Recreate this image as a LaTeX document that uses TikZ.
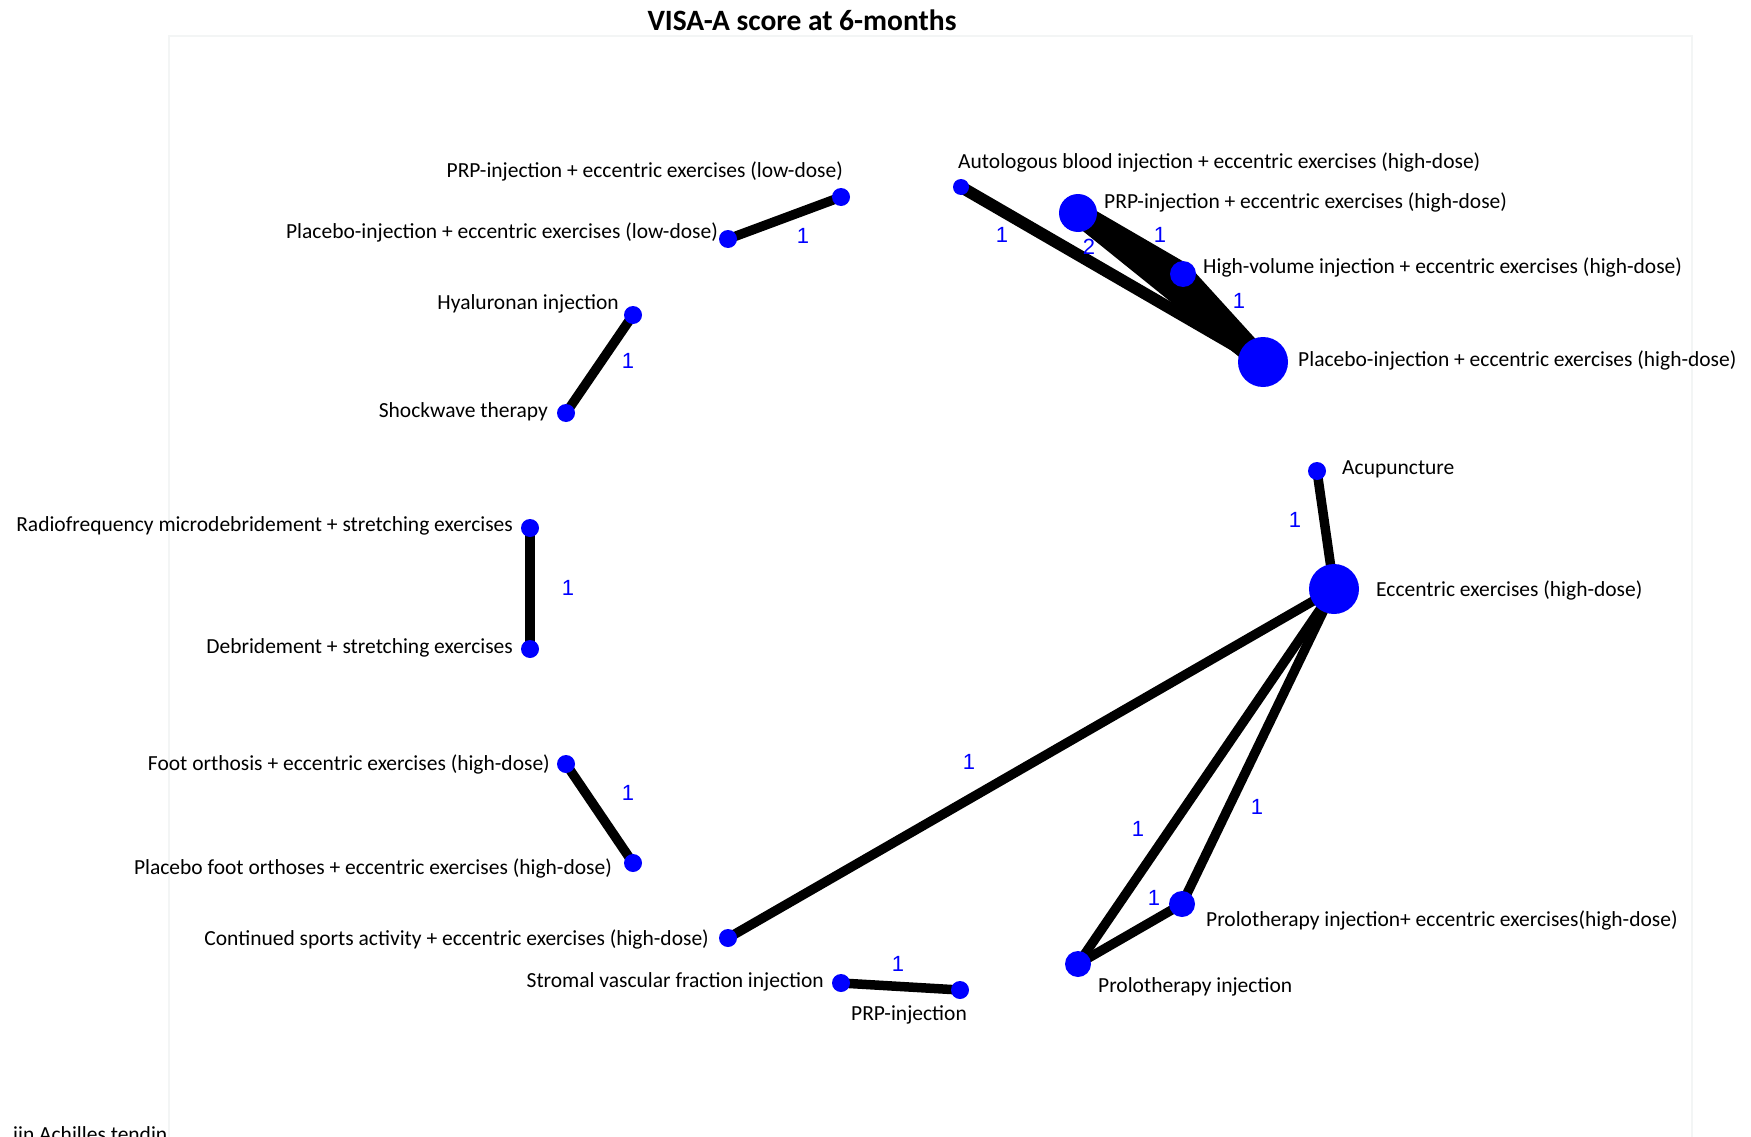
\documentclass[tikz,border=0pt]{standalone}
\usepackage{fontspec}
\setmainfont{Carlito}
\newfontfamily\numfont{Liberation Sans}
\definecolor{nodeblue}{RGB}{0,0,255}
\definecolor{framegray}{RGB}{243,245,245}
\begin{document}
\begin{tikzpicture}[x=1pt,y=-1pt,
  edge/.style={line width=#1, black},
  edge/.default=9.5pt,
  netnode/.style={circle, fill=nodeblue, inner sep=0pt, minimum size=#1},
  netnode/.default=18pt,
  lab/.style={inner sep=0pt, font=\fontsize{21.5}{24}\selectfont},
  num/.style={inner sep=0pt, text=nodeblue, font=\numfont\fontsize{22}{24}\selectfont}]
\useasboundingbox (0,0) rectangle (1751,1137);
\fill[white] (0,0) rectangle (1751,1137);
% faint frame
\draw[framegray, line width=1.2pt] (169,1137) -- (169,36) -- (1692,36) -- (1692,1137);
% title
\node[inner sep=0pt, font=\bfseries\fontsize{29.5}{32}\selectfont] (title) at (802,20) {VISA-A score at 6-months};
% positions
\coordinate (plow)   at (841,197);
\coordinate (pllow)  at (728,239);
\coordinate (hyal)   at (633,315);
\coordinate (shock)  at (566,413);
\coordinate (radio)  at (530,528);
\coordinate (debr)   at (530,649);
\coordinate (foot)   at (566,764);
\coordinate (pfoot)  at (633,863);
\coordinate (cont)   at (728,938);
\coordinate (svf)    at (841,983);
\coordinate (prp)    at (960,990);
\coordinate (prolo)  at (1078,964);
\coordinate (proloe) at (1182,904);
\coordinate (ecc)    at (1334,589);
\coordinate (acu)    at (1317,471);
\coordinate (plhigh) at (1263,362);
\coordinate (hv)     at (1183,274);
\coordinate (prph)   at (1078,213);
\coordinate (auto)   at (961,187);
% edges
\draw[edge] (plow) -- (pllow);
\draw[edge] (hyal) -- (shock);
\draw[edge] (radio) -- (debr);
\draw[edge] (foot) -- (pfoot);
\draw[edge] (cont) -- (ecc);
\draw[edge] (svf) -- (prp);
\draw[edge] (prolo) -- (ecc);
\draw[edge] (proloe) -- (ecc);
\draw[edge] (prolo) -- (proloe);
\draw[edge] (acu) -- (ecc);
\draw[edge=12pt] (auto) -- (plhigh);
\draw[edge=22pt] (prph) -- (plhigh);
\draw[edge=22pt] (prph) -- (hv);
\draw[edge=20pt] (hv) -- (plhigh);
% nodes
\node[netnode] (n-plow) at (plow) {};
\node[netnode] (n-pllow) at (pllow) {};
\node[netnode] (n-hyal) at (hyal) {};
\node[netnode] (n-shock) at (shock) {};
\node[netnode] (n-radio) at (radio) {};
\node[netnode] (n-debr) at (debr) {};
\node[netnode] (n-foot) at (foot) {};
\node[netnode] (n-pfoot) at (pfoot) {};
\node[netnode] (n-cont) at (cont) {};
\node[netnode] (n-svf) at (svf) {};
\node[netnode] (n-prp) at (prp) {};
\node[netnode=26pt] (n-prolo) at (prolo) {};
\node[netnode=26pt] (n-proloe) at (proloe) {};
\node[netnode=50pt] (n-ecc) at (ecc) {};
\node[netnode=18pt] (n-acu) at (acu) {};
\node[netnode=50pt] (n-plhigh) at (plhigh) {};
\node[netnode=26pt] (n-hv) at (hv) {};
\node[netnode=38pt] (n-prph) at (prph) {};
\node[netnode=16pt] (n-auto) at (auto) {};
% labels
\node[lab, anchor=east] (t-plow) at (843,171) {PRP-injection + eccentric exercises (low-dose)};
\node[lab, anchor=east] (t-pllow) at (718,232) {Placebo-injection + eccentric exercises (low-dose)};
\node[lab, anchor=east] (t-hyal) at (619,304) {Hyaluronan injection};
\node[lab, anchor=east] (t-shock) at (548,412) {Shockwave therapy};
\node[lab, anchor=east] (t-radio) at (513,526) {Radiofrequency microdebridement + stretching exercises};
\node[lab, anchor=east] (t-debr) at (513,648) {Debridement + stretching exercises};
\node[lab, anchor=east] (t-foot) at (550,764) {Foot orthosis + eccentric exercises (high-dose)};
\node[lab, anchor=east] (t-pfoot) at (612,868) {Placebo foot orthoses + eccentric exercises (high-dose)};
\node[lab, anchor=east] (t-cont) at (709,939) {Continued sports activity + eccentric exercises (high-dose)};
\node[lab, anchor=east] (t-svf) at (824,982) {Stromal vascular fraction injection};
\node[lab] (t-prp) at (909,1015) {PRP-injection};
\node[lab, anchor=west] (t-prolo) at (1098,987) {Prolotherapy injection};
\node[lab, anchor=west] (t-proloe) at (1206,920) {Prolotherapy injection+ eccentric exercises(high-dose)};
\node[lab, anchor=west] (t-ecc) at (1376,590) {Eccentric exercises (high-dose)};
\node[lab, anchor=west] (t-acu) at (1342,469) {Acupuncture};
\node[lab, anchor=west] (t-plhigh) at (1298,360) {Placebo-injection + eccentric exercises (high-dose)};
\node[lab, anchor=west] (t-hv) at (1203,267) {High-volume injection + eccentric exercises (high-dose)};
\node[lab, anchor=west] (t-prph) at (1104,202) {PRP-injection + eccentric exercises (high-dose)};
\node[lab, anchor=west] (t-auto) at (958,162) {Autologous blood injection + eccentric exercises (high-dose)};
% edge counts
\node[num] (c1) at (803,236) {1};
\node[num] (c2) at (628,361) {1};
\node[num] (c3) at (568,588) {1};
\node[num] (c4) at (628,793) {1};
\node[num] (c5) at (969,762) {1};
\node[num] (c6) at (898,964) {1};
\node[num] (c7) at (1138,829) {1};
\node[num] (c8) at (1257,807) {1};
\node[num] (c9) at (1154,898) {1};
\node[num] (c10) at (1295,520) {1};
\node[num] (c11) at (1002,235) {1};
\node[num] (c12) at (1089,247) {2};
\node[num] (c13) at (1160,235) {1};
\node[num] (c14) at (1239,301) {1};
% cut-off caption fragment
\begin{scope}
\clip (0,0) rectangle (169,1137);
\node[lab, anchor=base west] (t-cut) at (13,1141) {iin Achilles tendin};
\end{scope}
\end{tikzpicture}
\end{document}
